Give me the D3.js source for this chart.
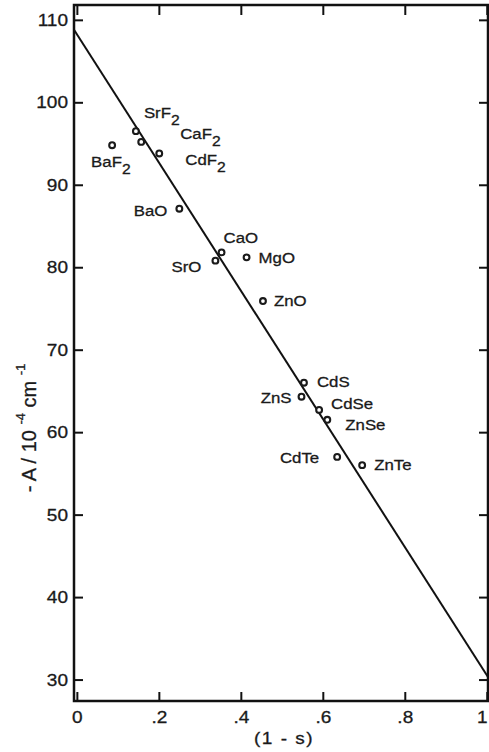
<!DOCTYPE html>
<html>
<head>
    <title>-A vs (1 - s)</title>
    <script src="https://d3js.org/d3.v7.min.js"></script>
    <style>
        body { margin: 0; background: #fff; }
        text { font-family: "Liberation Sans", Arial, sans-serif; fill: #1a1a1a;
               stroke: #1a1a1a; stroke-width: 0.3px; }
    </style>
</head>
<body>
    <div id="chart"></div>

    <script>
        // data
        var compounds = ["BaF2", "SrF2", "CaF2", "CdF2", "BaO", "CaO", "SrO", "MgO", "ZnO",
                         "CdS", "ZnS", "CdSe", "ZnSe", "CdTe", "ZnTe"];
        var oneMinusS = [0.086, 0.144, 0.157, 0.201, 0.250, 0.353, 0.338, 0.414, 0.454,
                         0.554, 0.548, 0.591, 0.611, 0.635, 0.696];
        var minusA    = [94.8, 96.5, 95.2, 93.8, 87.1, 81.8, 80.8, 81.2, 75.9,
                         66.0, 64.3, 62.7, 61.5, 57.0, 56.0];

        // fitted line, end points at the frame edges
        var fitX = [-0.007, 1.003];
        var fitY = [108.8, 30.3];

        var xTicks = [0, 0.2, 0.4, 0.6, 0.8, 1];
        var xTickLabels = ["0", ".2", ".4", ".6", ".8", "1"];
        var yTicks = [30, 40, 50, 60, 70, 80, 90, 100, 110];

        // label placement relative to each point: [dx, dy, anchor]
        var labelPos = {
            BaF2: [-21, 22, "start"], SrF2: [8, -13, "start"], CaF2: [39, -3, "start"],
            CdF2: [26, 12, "start"], BaO: [-12, 7, "end"], CaO: [2, -9, "start"],
            SrO: [-14, 11, "end"], MgO: [12, 6, "start"], ZnO: [11, 5, "start"],
            CdS: [13, 4, "start"], ZnS: [-10, 6, "end"], CdSe: [12, -1, "start"],
            ZnSe: [18, 10, "start"], CdTe: [-18, 6, "end"], ZnTe: [12, 5, "start"]
        };

        var W = 489, H = 752;
        var stretch = 1.12;   // type in the figure is a bit wide

        var svg = d3.select("#chart")
                    .append("svg")
                    .attr("width", W)
                    .attr("height", H);

        var x = d3.scaleLinear().domain([-0.007, 1.003]).range([74, 488]);
        var y = d3.scaleLinear().domain([27.4, 111.8]).range([701, 5]);

        // axes with inward ticks on all four sides
        var gBottom = svg.append("g")
            .attr("transform", "translate(0," + y.range()[0] + ")")
            .call(d3.axisBottom(x).tickValues(xTicks)
                .tickFormat(function(d, i) { return xTickLabels[i]; })
                .tickSizeInner(-9).tickSizeOuter(0).tickPadding(10));

        var gLeft = svg.append("g")
            .attr("transform", "translate(" + x.range()[0] + ",0)")
            .call(d3.axisLeft(y).tickValues(yTicks)
                .tickSizeInner(-9).tickSizeOuter(0).tickPadding(6));

        var gTop = svg.append("g")
            .attr("transform", "translate(0," + y.range()[1] + ")")
            .call(d3.axisTop(x).tickValues(xTicks).tickFormat("")
                .tickSizeInner(-10).tickSizeOuter(0));

        var gRight = svg.append("g")
            .attr("transform", "translate(" + x.range()[1] + ",0)")
            .call(d3.axisRight(y).tickValues(yTicks).tickFormat("")
                .tickSizeInner(-9).tickSizeOuter(0));

        [gBottom, gLeft, gTop, gRight].forEach(function(g) {
            g.select(".domain").remove();
            g.selectAll(".tick line").attr("stroke", "#111").attr("stroke-width", 2);
            g.selectAll(".tick text")
                .style("font-size", "17px")
                .style("font-family", "'Liberation Sans', Arial, sans-serif")
                .attr("fill", "#1a1a1a");
        });
        gBottom.selectAll(".tick text")
            .attr("transform", function(d, i) {
                // last label sits on the page edge, nudge it in
                var dx = (i === xTicks.length - 1) ? -5 : 0;
                return "translate(" + dx + "," + d3.select(this).attr("y") + ") scale(" + stretch + ",1)";
            })
            .attr("y", 0);
        gLeft.selectAll(".tick text")
            .attr("transform", function() {
                return "translate(" + d3.select(this).attr("x") + ",0) scale(" + stretch + ",1)";
            })
            .attr("x", 0);

        // frame
        svg.append("rect")
           .attr("x", x.range()[0])
           .attr("y", y.range()[1])
           .attr("width", x.range()[1] - x.range()[0])
           .attr("height", y.range()[0] - y.range()[1])
           .attr("fill", "none")
           .attr("stroke", "#111")
           .attr("stroke-width", 2.5);

        // fitted line
        var line = d3.line()
            .x(function(d) { return x(d[0]); })
            .y(function(d) { return y(d[1]); });

        svg.append("path")
           .datum(d3.zip(fitX, fitY))
           .attr("d", line)
           .attr("fill", "none")
           .attr("stroke", "#111")
           .attr("stroke-width", 2);

        // points
        var data = compounds.map(function(c, i) {
            return { name: c, x: oneMinusS[i], y: minusA[i] };
        });

        svg.append("g")
           .selectAll("circle")
           .data(data)
           .enter()
           .append("circle")
           .attr("cx", function(d) { return x(d.x); })
           .attr("cy", function(d) { return y(d.y); })
           .attr("r", 2.9)
           .attr("fill", "#fff")
           .attr("stroke", "#1a1a1a")
           .attr("stroke-width", 2.1);

        // point labels, trailing 2 set as subscript
        var labels = svg.append("g")
           .selectAll("text")
           .data(data)
           .enter()
           .append("text")
           .attr("transform", function(d) {
               var p = labelPos[d.name];
               return "translate(" + (x(d.x) + p[0]) + "," + (y(d.y) + p[1]) + ") scale(" + stretch + ",1)";
           })
           .attr("text-anchor", function(d) { return labelPos[d.name][2]; })
           .style("font-size", "15px");

        labels.each(function(d) {
            var t = d3.select(this);
            var m = d.name.match(/^(.*?)(2?)$/);
            t.append("tspan").text(m[1]);
            if (m[2]) {
                t.append("tspan").attr("dy", 7).style("font-size", "14px").text(m[2]);
            }
        });

        // x axis title
        svg.append("text")
           .attr("transform", "translate(284," + 744 + ") scale(" + stretch + ",1)")
           .attr("text-anchor", "middle")
           .style("font-size", "17px")
           .style("letter-spacing", "1.3px")
           .text("(1 - s)");

        // y axis title
        var yt = svg.append("text")
           .attr("transform", "translate(36,428) rotate(-90)")
           .attr("text-anchor", "middle")
           .style("font-size", "20px");
        yt.append("tspan").text("- A / 10 ");
        yt.append("tspan").attr("dy", -11).style("font-size", "13px").text("-4");
        yt.append("tspan").attr("dy", 11).text("  cm ");
        yt.append("tspan").attr("dy", -11).style("font-size", "13px").text("-1");
    </script>
</body>
</html>
